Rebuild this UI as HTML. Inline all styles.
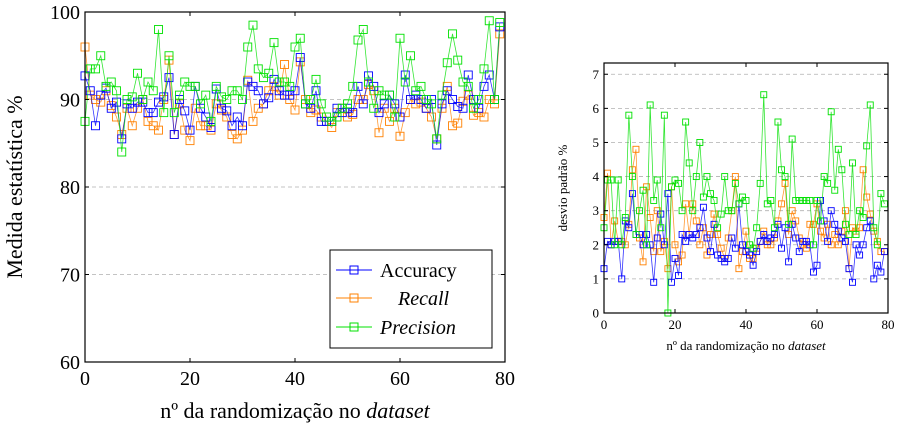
<!DOCTYPE html>
<html><head><meta charset="utf-8"><style>
body{margin:0;background:#fff;width:900px;height:434px;overflow:hidden}
svg text{font-family:"Liberation Serif",serif;fill:#000}
</style></head><body>
<svg id="chart" width="900" height="434" xmlns="http://www.w3.org/2000/svg"></svg>
<script>
const accL=[92.7,91,87,90.5,91.3,89,89.7,85.5,89.5,89,89.7,89.7,88.5,88.5,89.7,90.3,92.5,86,90,88.7,86.5,91.5,89,88,86.8,91.2,89,88.7,87,88,87,92,91.5,91,89.5,90.2,92.3,91,90.5,90.5,91,94.8,89.5,89,91,87.5,87.5,87.5,89,88.5,89,88.5,91.5,89.5,92.7,91.5,88.5,89.5,90.5,89.5,88,92.8,90,90.5,90,89,90,84.8,89.5,91,90,89.2,89,92.8,90,89,91.5,92.8,90,98.3];
const recL=[96,90.5,90,89.7,91,89.3,88,86,89,87,89,90,87.5,87,86.5,90,94.5,86,89.5,86.5,85.3,89,87,87,86.5,89.5,88.8,88,86,85.5,86.5,92.2,87.5,89,89.5,91,91.5,90.5,94,90,88.8,94.3,90,88.5,88.8,88,87.5,86.8,88.5,89,88,88.3,90,90,91.7,91,86.2,89,87.5,89,85.8,88.5,90,89.5,89.7,89,88,85.5,89,91.5,87,87.3,89.8,90.5,88.2,88.5,88,90,89.5,97.5];
const preL=[87.5,93.5,93.5,95,91.5,92,91,84,90,90.3,93,90,92,91,98,88.5,95,88.5,90.5,92,91.5,91.5,89.5,90.5,87.5,91.5,90.3,90,91,91,90,96,98.5,93.5,92.5,93,96.5,92,92,91.5,96,97,89.5,90,92.3,89.5,88,87.5,88,89,89.5,91.5,96.8,98,92,89,91,90.5,90.5,88,97,92,95,91,91.5,90,89.5,85.5,90.5,94.2,97.5,94.5,92,91.5,89,90,93.5,99,90,98.8];
const accR=[1.3,2.1,2.0,2.1,2.1,1.0,2.7,2.5,3.5,2.3,2.3,2.0,2.3,2.0,0.9,2.2,2.9,2.0,3.5,0.9,1.6,1.1,2.3,2.1,2.3,2.2,2.3,2.5,3.1,2.2,1.8,2.6,1.7,1.6,1.5,1.6,2.2,1.9,3.2,2.0,1.8,1.7,1.4,1.8,2.1,2.3,2.1,2.2,2.3,2.6,1.9,2.5,1.5,2.6,2.2,1.8,2.1,2.1,2.0,1.2,1.4,3.3,2.7,2.1,3.0,2.6,2.4,2.2,2.1,1.3,0.9,2.0,1.7,2.0,2.5,2.7,1.0,1.4,1.2,1.8];
const recR=[2.8,4.1,2.0,2.7,2.1,2.1,2.0,2.6,4.2,4.8,2.2,1.5,3.7,2.8,1.8,3.0,1.8,2.1,1.3,3.7,2.0,1.5,1.7,3.2,2.3,3.2,2.7,2.0,2.5,1.7,2.3,2.9,2.3,1.9,1.6,2.2,3.0,4.0,1.3,1.8,2.4,1.6,1.6,1.9,2.1,2.4,2.0,2.0,2.2,2.7,3.2,3.8,2.3,3.0,2.7,2.2,2.0,1.9,2.6,2.6,3.2,2.4,2.2,2.6,2.0,2.3,2.0,2.4,3.0,1.3,2.5,2.4,2.5,4.2,3.4,2.9,2.4,2.1,1.8,1.8];
const preR=[2.5,3.9,3.9,2.0,3.9,2.0,2.8,5.8,4.0,2.3,3.0,3.6,2.0,6.1,3.3,3.9,2.5,5.8,0.0,3.7,3.9,3.8,3.0,5.6,4.4,3.0,4.0,5.0,3.4,4.0,3.5,3.3,2.5,2.9,4.0,3.0,3.0,3.8,3.2,3.4,3.3,2.0,1.9,2.5,3.8,6.4,3.2,3.3,2.5,5.6,4.2,4.0,2.6,5.1,3.3,3.3,3.3,3.3,3.3,2.0,3.3,2.7,4.0,3.8,5.9,3.6,4.8,4.2,2.6,2.3,4.4,2.3,3.0,2.8,4.9,6.1,2.5,2.0,3.5,3.2];
const xTicks=[0,20,40,60,80];
const yTicksL=[60,70,80,90,100];
const yTicksR=[0,1,2,3,4,5,6,7];
const colors={acc:"#0000ff",rec:"#ff8000",pre:"#00e000"};
const svg=document.getElementById('chart');
const NS="http://www.w3.org/2000/svg";
function mk(t,a,p){const e=document.createElementNS(NS,t);for(const k in a)e.setAttribute(k,a[k]);(p||svg).appendChild(e);return e;}
function panel(o){
  const g=mk('g',{});
  
  
  const sx=v=>o.x0+(v-o.xmin)/(o.xmax-o.xmin)*(o.x1-o.x0);
  const sy=v=>o.y0-(v-o.ymin)/(o.ymax-o.ymin)*(o.y0-o.y1);
  o.grid.forEach(v=>{const l=mk('line',{x1:o.x0,x2:o.x1,y1:sy(v),y2:sy(v),stroke:'#b0b0b0','stroke-width':0.8,'stroke-dasharray':'4,3'},g);
    
    });
  o.series.forEach(s=>{
    const sg=mk('g',{},g);
    
    
    const pts=s.data.map((v,i)=>sx(i)+','+sy(v)).join(' ');
    mk('polyline',{points:pts,fill:'none',stroke:s.color,'stroke-width':0.8,'stroke-opacity':0.8},sg);
    s.data.forEach((v,i)=>{const r=mk('rect',{x:sx(i)-o.m/2,y:sy(v)-o.m/2,width:o.m,height:o.m,fill:'none',stroke:s.color,'stroke-width':0.9},sg);
      
      });
  });
  const b=mk('rect',{x:o.x0,y:o.y1,width:o.x1-o.x0,height:o.y0-o.y1,fill:'none',stroke:'#000','stroke-width':1.2},g);
  
  
  o.xt.forEach(v=>{mk('line',{x1:sx(v),x2:sx(v),y1:o.y0,y2:o.y0-4,stroke:'#000'},g);mk('line',{x1:sx(v),x2:sx(v),y1:o.y1,y2:o.y1+4,stroke:'#000'},g);
    const t=mk('text',{x:sx(v),y:o.y0+o.fs+3,'text-anchor':'middle','font-size':o.fs},g);t.textContent=v;
    
    });
  o.yt.forEach(v=>{mk('line',{x1:o.x0,x2:o.x0+4,y1:sy(v),y2:sy(v),stroke:'#000'},g);mk('line',{x1:o.x1,x2:o.x1-4,y1:sy(v),y2:sy(v),stroke:'#000'},g);
    const t=mk('text',{x:o.x0-5,y:sy(v)+o.fs*0.35,'text-anchor':'end','font-size':o.fs},g);t.textContent=v;
    
    });
  return {sx,sy,g};
}
const ser=(a,r,p)=>[{key:'recall',data:r,color:colors.rec},{key:'accuracy',data:a,color:colors.acc},{key:'precision',data:p,color:colors.pre}];
panel({name:'left-panel',x0:85,x1:505,y0:362,y1:12,xmin:0,xmax:80,ymin:60,ymax:100,grid:[70,80,90],xt:xTicks,yt:yTicksL,m:8,fs:20,series:ser(accL,recL,preL)});
panel({name:'right-panel',x0:604,x1:888,y0:313,y1:63,xmin:0,xmax:80,ymin:0,ymax:7.33,grid:[1,2,3,4,5,6,7],xt:xTicks,yt:yTicksR,m:6,fs:13,series:ser(accR,recR,preR)});
</script>
<svg style="position:absolute;left:0;top:0" width="900" height="434">
<text transform="translate(22,187) rotate(-90)" text-anchor="middle" font-size="22">Medida estatística %</text>
<text x="295" y="418" text-anchor="middle" font-size="22">nº da randomização no <tspan font-style="italic">dataset</tspan></text>
<text transform="translate(567,188) rotate(-90)" text-anchor="middle" font-size="13">desvio padrão %</text>
<text x="746" y="350" text-anchor="middle" font-size="13">nº da randomização no <tspan font-style="italic">dataset</tspan></text>
<g>
<rect x="330" y="250" width="162" height="98" fill="#fff" stroke="#000" stroke-width="1"/>
<g><line x1="336" x2="372" y1="270" y2="270" stroke="#0000ff"/><rect x="350" y="266" width="8" height="8" fill="none" stroke="#0000ff"/><text x="380" y="277" font-size="20">Accuracy</text></g>
<g><line x1="336" x2="372" y1="298" y2="298" stroke="#ff8000"/><rect x="350" y="294" width="8" height="8" fill="none" stroke="#ff8000"/><text x="398" y="305" font-size="20" font-style="italic">Recall</text></g>
<g><line x1="336" x2="372" y1="327" y2="327" stroke="#00e000"/><rect x="350" y="323" width="8" height="8" fill="none" stroke="#00e000"/><text x="380" y="334" font-size="20" font-style="italic">Precision</text></g>
</g>
</svg>
</body></html>
